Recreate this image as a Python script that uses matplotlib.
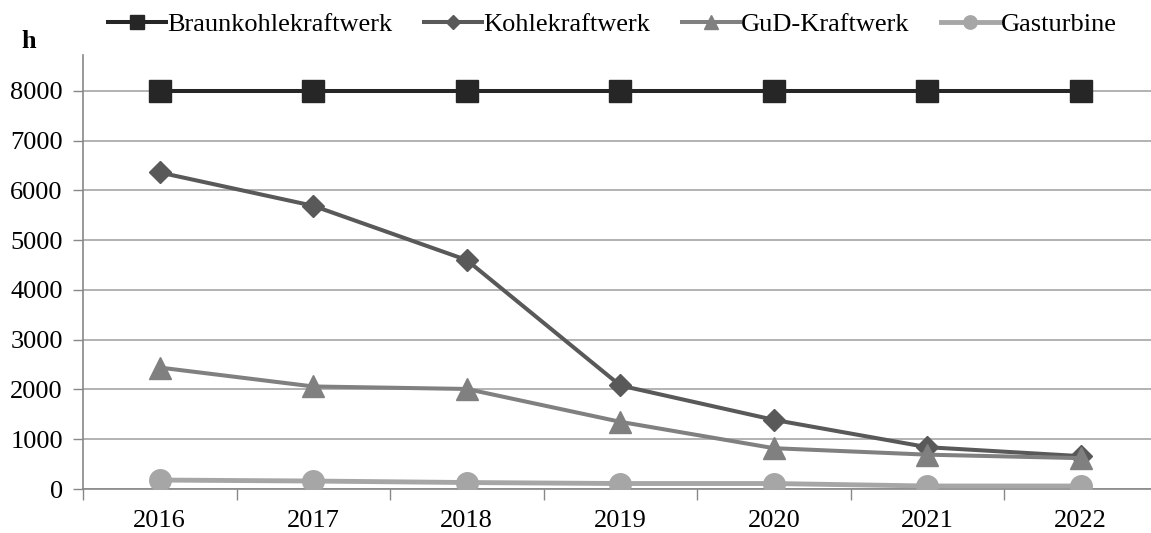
import matplotlib
matplotlib.use("Agg")
import matplotlib.pyplot as plt
import numpy as np

years = ["2016", "2017", "2018", "2019", "2020", "2021", "2022"]
braunkohle = [8000, 8000, 8000, 8000, 8000, 8000, 8000]
kohle = [6360, 5690, 4600, 2080, 1390, 840, 660]
gud = [2440, 2060, 2010, 1350, 820, 690, 620]
gasturbine = [180, 160, 130, 110, 110, 60, 60]
yticks = [0, 1000, 2000, 3000, 4000, 5000, 6000, 7000, 8000]

plt.rcParams['font.family'] = ['Liberation Serif', 'DejaVu Serif']

fig = plt.figure(figsize=(11.51, 5.33), dpi=100)
ax = fig.add_axes([83/1151, (533-489)/533, (1157.5-83)/1151, (489-55)/533])

x = np.arange(len(years))
series = [
    ("Braunkohlekraftwerk", braunkohle, "#262626", "s", 15.5, 2.9),
    ("Kohlekraftwerk", kohle, "#595959", "D", 11.5, 2.9),
    ("GuD-Kraftwerk", gud, "#808080", "^", 15.5, 2.9),
    ("Gasturbine", gasturbine, "#a6a6a6", "o", 15.5, 3.5),
]
for name, vals, col, mk, ms, lw in series:
    ax.plot(x, vals, color=col, lw=lw, marker=mk, markersize=ms,
            markerfacecolor=col, markeredgecolor=col, label=name, zorder=3,
            solid_joinstyle='round')

ax.set_xlim(-0.5, len(years) - 0.5)
ax.set_ylim(0, 8720)
ax.set_yticks(yticks)
ax.set_yticklabels([str(v) for v in yticks])
ax.set_xticks(x)
ax.set_xticklabels(years)
ax.set_xticks(np.arange(-0.5, len(years)), minor=True)
ax.tick_params(axis='x', which='major', length=0, pad=15, labelsize=19)
ax.tick_params(axis='x', which='minor', length=8, width=1, color='#888888', direction='out')
ax.tick_params(axis='y', which='major', length=7, width=1, color='#888888', direction='out', pad=7.5, labelsize=19)
ax.grid(axis='y', color='#a6a6a6', lw=1.2, zorder=0)
for s in ['top', 'right']:
    ax.spines[s].set_visible(False)
for s in ['left', 'bottom']:
    ax.spines[s].set_color('#888888')
    ax.spines[s].set_linewidth(1.2)

fig.text(29/1151, 1 - 41/533, "h", fontsize=19, fontweight='bold', ha='center', va='center')

leg = fig.legend(loc='center', bbox_to_anchor=(0.532, 0.954), ncol=4, frameon=False,
                 fontsize=19, handlelength=2.2, handletextpad=0.05, columnspacing=1.2,
                 markerscale=0.62)

fig.savefig("out.png", dpi=100)
